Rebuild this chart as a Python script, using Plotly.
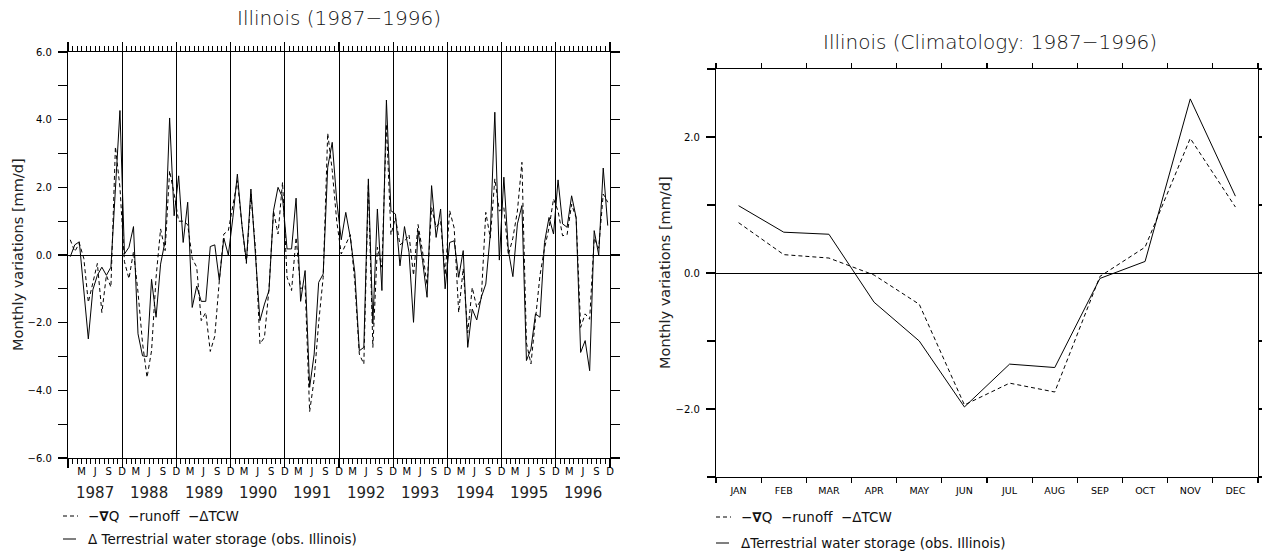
import plotly.graph_objects as go

W, H = 1262, 554

# ---------------- data ----------------
years = [1987, 1988, 1989, 1990, 1991, 1992, 1993, 1994, 1995, 1996]
month_tick_labels = ["M", "J", "S", "D"]

# Delta terrestrial water storage (obs. Illinois), monthly, Jan 1987 .. Dec 1996  [mm/d]
tws_obs = [
    -0.05, 0.30, 0.39, -1.05, -2.48, -1.03, -0.60, -0.36, -0.60, -0.36, 1.90, 4.27,   # 1987
    0.03, 0.23, 0.84, -2.33, -2.98, -3.00, -0.72, -1.84, -0.27, 0.42, 4.05, 1.16,     # 1988
    2.34, 0.37, 1.56, -1.55, -0.92, -1.37, -1.37, 0.25, 0.30, -0.75, 0.50, 0.00,      # 1989
    1.10, 2.39, 0.90, -0.20, 1.95, 0.00, -1.94, -1.45, -1.05, 1.31, 2.00, 1.70,       # 1990
    0.18, 0.18, 1.68, -1.37, -0.46, -3.91, -2.93, -0.81, -0.56, 2.59, 3.33, 1.60,     # 1991
    0.45, 1.26, 0.52, -0.51, -2.83, -2.73, 2.25, -2.04, 1.36, -1.05, 4.58, 1.31,      # 1992
    1.21, -0.32, 0.84, 0.08, -1.99, 0.72, -0.17, -1.25, 2.05, 0.52, 1.36, -1.00,      # 1993
    0.37, 0.42, -0.66, 0.13, -2.73, -1.60, -1.92, -1.25, -0.86, 0.62, 4.22, -0.15,    # 1994
    2.30, 0.13, -0.64, 0.92, 1.46, -3.12, -2.78, -1.74, -1.84, 0.37, 1.11, 0.62,      # 1995
    2.22, 0.92, 0.82, 1.75, 1.11, -2.88, -2.53, -3.42, 0.72, 0.00, 2.57, 0.87,        # 1996
]

# -grad Q - runoff - Delta TCW, monthly, Jan 1987 .. Dec 1996  [mm/d]
budget = [
    0.45, 0.10, 0.35, -0.10, -1.40, -0.80, -0.25, -1.70, -0.60, -0.95, 3.20, 2.00,    # 1987
    -0.20, -0.70, 0.10, -1.10, -2.60, -3.62, -2.83, -0.66, 0.77, 0.13, 2.49, 1.80,    # 1988
    1.00, 1.00, 0.90, -0.10, -0.36, -1.94, -1.70, -2.85, -2.40, -0.76, 0.62, 0.72,    # 1989
    1.50, 2.20, 0.90, -0.25, 1.80, 0.20, -2.63, -2.43, -1.00, 1.30, 0.62, 2.15,       # 1990
    -0.66, -1.05, 0.52, -1.00, -0.90, -4.63, -3.67, -2.00, -0.66, 3.60, 2.50, 1.00,   # 1991
    0.03, 0.30, 0.60, -0.80, -2.93, -3.22, 2.10, -2.73, 0.23, -0.36, 3.87, 0.60,      # 1992
    1.10, 0.30, 0.40, 0.60, -0.60, 0.90, 0.10, -0.90, 1.40, 0.82, 1.00, -0.60,        # 1993
    1.31, 0.80, -1.70, -0.40, -2.30, -0.96, -1.55, -1.30, 1.26, 0.50, 2.25, 1.30,     # 1994
    1.40, 0.00, 0.50, 1.30, 2.74, -2.60, -3.22, -1.90, -0.60, 0.20, 0.80, 1.66,       # 1995
    1.30, 0.57, 0.60, 1.50, 1.10, -2.14, -1.74, -1.90, 0.50, 0.20, 1.80, 1.56,        # 1996
]

# Climatology 1987-1996
clim_months = ["JAN", "FEB", "MAR", "APR", "MAY", "JUN", "JUL", "AUG", "SEP", "OCT", "NOV", "DEC"]
clim_tws = [0.99, 0.60, 0.57, -0.43, -1.00, -1.97, -1.34, -1.39, -0.08, 0.17, 2.56, 1.13]
clim_budget = [0.74, 0.27, 0.22, -0.03, -0.46, -1.94, -1.62, -1.75, -0.05, 0.38, 1.98, 0.97]

legend_budget = "\u2212<b>\u2207</b>Q  \u2212runoff  \u2212\u0394TCW"
legend_tws_left = "\u0394 Terrestrial water storage (obs. Illinois)"
legend_tws_right = "\u0394Terrestrial water storage (obs. Illinois)"

# ---------------- helpers ----------------
FONT = "DejaVu Sans"
BLACK = "#000000"
TXT = "#222222"


def px(x):
    return x / W


def py(y):
    return 1 - y / H


n_months = len(tws_obs)
x_months = [i + 0.5 for i in range(n_months)]          # month centres, axis unit = 1 month
label_pos = [3 * (i + 1) for i in range(4 * len(years))]
label_txt = [month_tick_labels[i % 4] for i in range(4 * len(years))]

fig = go.Figure()

# left panel series
fig.add_trace(go.Scatter(x=x_months, y=budget, mode="lines", xaxis="x", yaxis="y",
                         line=dict(color=BLACK, width=1, dash="4px,3px"),
                         name="\u2212\u2207Q \u2212runoff \u2212\u0394TCW", showlegend=False))
fig.add_trace(go.Scatter(x=x_months, y=tws_obs, mode="lines", xaxis="x3", yaxis="y",
                         line=dict(color=BLACK, width=1),
                         name=legend_tws_left, showlegend=False))

# right panel series
fig.add_trace(go.Scatter(x=clim_months, y=clim_budget, mode="lines", xaxis="x2", yaxis="y2",
                         line=dict(color=BLACK, width=1, dash="4px,3px"),
                         name="\u2212\u2207Q \u2212runoff \u2212\u0394TCW", showlegend=False))
fig.add_trace(go.Scatter(x=clim_months, y=clim_tws, mode="lines", xaxis="x2", yaxis="y4",
                         line=dict(color=BLACK, width=1),
                         name=legend_tws_right, showlegend=False))

axis_common = dict(linecolor=BLACK, linewidth=1.2, tickcolor=BLACK, tickwidth=1.2,
                   automargin=False,
                   tickfont=dict(family=FONT, size=10, color=BLACK))

left_dom_x = [px(68), px(610)]
left_dom_y = [py(458), py(52)]
right_dom_x = [px(716), px(1258)]
right_dom_y = [py(477), py(69)]

fig.update_layout(
    width=W, height=H, autosize=False,
    margin=dict(l=0, r=0, t=0, b=0, pad=0, autoexpand=False),
    paper_bgcolor="white", plot_bgcolor="white",
    showlegend=False, hovermode=False,
    xaxis=dict(domain=left_dom_x, anchor="y", range=[0, n_months],
               tickmode="linear", tick0=0, dtick=12,
               ticks="outside", ticklen=9, showticklabels=False,
               showline=True, mirror="ticks",
               showgrid=True, gridcolor=BLACK, gridwidth=1, zeroline=False,
               minor=dict(tickmode="linear", tick0=0, dtick=1, ticks="outside", ticklen=5,
                          tickcolor=BLACK, tickwidth=1, showgrid=False),
               **axis_common),
    xaxis3=dict(overlaying="x", anchor="y", side="bottom", range=[0, n_months],
                tickmode="array", tickvals=label_pos, ticktext=label_txt,
                ticks="", showline=False, showgrid=False, zeroline=False,
                ticklabelstandoff=6, automargin=False,
                tickfont=dict(family=FONT, size=10, color=BLACK)),
    yaxis=dict(domain=left_dom_y, anchor="x", range=[-6, 6],
               tickmode="linear", tick0=0, dtick=2, tickformat=".1f",
               ticks="outside", ticklen=9, showline=True, mirror="ticks",
               showgrid=False, zeroline=True, zerolinecolor=BLACK, zerolinewidth=1,
               ticklabelstandoff=4,
               minor=dict(tickmode="linear", tick0=0, dtick=1, ticks="outside", ticklen=9,
                          tickcolor=BLACK, tickwidth=1.2, showgrid=False),
               **axis_common),
    xaxis2=dict(domain=right_dom_x, anchor="y2", type="category",
                categoryorder="array", categoryarray=clim_months,
                range=[-0.5, len(clim_months) - 0.5],
                tickson="boundaries", ticks="outside", ticklen=5,
                showline=True, mirror="ticks", showgrid=False, zeroline=False,
                linecolor=BLACK, linewidth=1.2, tickcolor=BLACK, tickwidth=1.2,
                ticklabelstandoff=4, automargin=False,
                tickfont=dict(family=FONT, size=9.5, color=BLACK)),
    yaxis2=dict(domain=right_dom_y, anchor="x2", range=[-3, 3],
                tickmode="linear", tick0=0, dtick=2, tickformat=".1f",
                ticks="outside", ticklen=9, showline=True, mirror=True,
                showgrid=False, zeroline=True, zerolinecolor=BLACK, zerolinewidth=1,
                ticklabelstandoff=4,
                minor=dict(tickmode="linear", tick0=0, dtick=1, ticks="outside", ticklen=8,
                           tickcolor=BLACK, tickwidth=1.2, showgrid=False),
                **axis_common),
    yaxis4=dict(overlaying="y2", anchor="x2", side="right", range=[-3, 3],
                tickmode="linear", tick0=0, dtick=1, ticks="outside", ticklen=4,
                tickcolor=BLACK, tickwidth=1.2, automargin=False,
                showticklabels=False, showline=False, showgrid=False, zeroline=False),
)

ann = []
# titles
ann.append(dict(text="Illinois (1987\u22121996)", x=px(339), y=py(18), xref="paper", yref="paper",
                showarrow=False, xanchor="center", yanchor="middle",
                font=dict(family=FONT, size=20, color="#111111", weight=300)))
ann.append(dict(text="Illinois (Climatology: 1987\u22121996)", x=px(990), y=py(42), xref="paper",
                yref="paper", showarrow=False, xanchor="center", yanchor="middle",
                font=dict(family=FONT, size=20, color="#111111", weight=300)))
# y-axis titles
ann.append(dict(text="Monthly variations [mm/d]", x=px(18), y=py(255), xref="paper", yref="paper",
                showarrow=False, textangle=-90, xanchor="center", yanchor="middle",
                font=dict(family=FONT, size=14.5, color=TXT)))
ann.append(dict(text="Monthly variations [mm/d]", x=px(665), y=py(273), xref="paper", yref="paper",
                showarrow=False, textangle=-90, xanchor="center", yanchor="middle",
                font=dict(family=FONT, size=14.5, color=TXT)))
# year labels
for i, yr in enumerate(years):
    ann.append(dict(text=str(yr), x=12 * i + 6, y=py(493), xref="x", yref="paper",
                    showarrow=False, xanchor="center", yanchor="middle",
                    font=dict(family=FONT, size=15, color=TXT)))
# legends
for (x0, ya, yb, t2) in [(63, 516, 539, legend_tws_left), (716, 517, 543, legend_tws_right)]:
    ann.append(dict(text=legend_budget, x=px(x0 + 23), y=py(ya), xref="paper", yref="paper",
                    showarrow=False, xanchor="left", yanchor="middle",
                    font=dict(family=FONT, size=13.5, color="#111111")))
    ann.append(dict(text=t2, x=px(x0 + 23), y=py(yb), xref="paper", yref="paper",
                    showarrow=False, xanchor="left", yanchor="middle",
                    font=dict(family=FONT, size=13.5, color="#111111")))

shapes = []
for (x0, ya, yb) in [(63, 516, 539), (716, 517, 543)]:
    shapes.append(dict(type="line", xref="paper", yref="paper", x0=px(x0), x1=px(x0 + 15),
                       y0=py(ya), y1=py(ya), line=dict(color=BLACK, width=1, dash="4px,3px")))
    shapes.append(dict(type="line", xref="paper", yref="paper", x0=px(x0), x1=px(x0 + 13),
                       y0=py(yb), y1=py(yb), line=dict(color=BLACK, width=1)))

fig.update_layout(annotations=ann, shapes=shapes)

# pin the figure to the window's top-left corner (no page margin / scrolling)
pin_js = (
    "document.body.style.margin='0';"
    "document.body.style.overflow='hidden';"
    "var gd=document.getElementById('{plot_id}');"
    "gd.style.position='fixed';gd.style.left='0px';gd.style.top='0px';"
)

fig.write_html("out.html", post_script=pin_js,
               config={"displayModeBar": False, "responsive": False, "staticPlot": True})
